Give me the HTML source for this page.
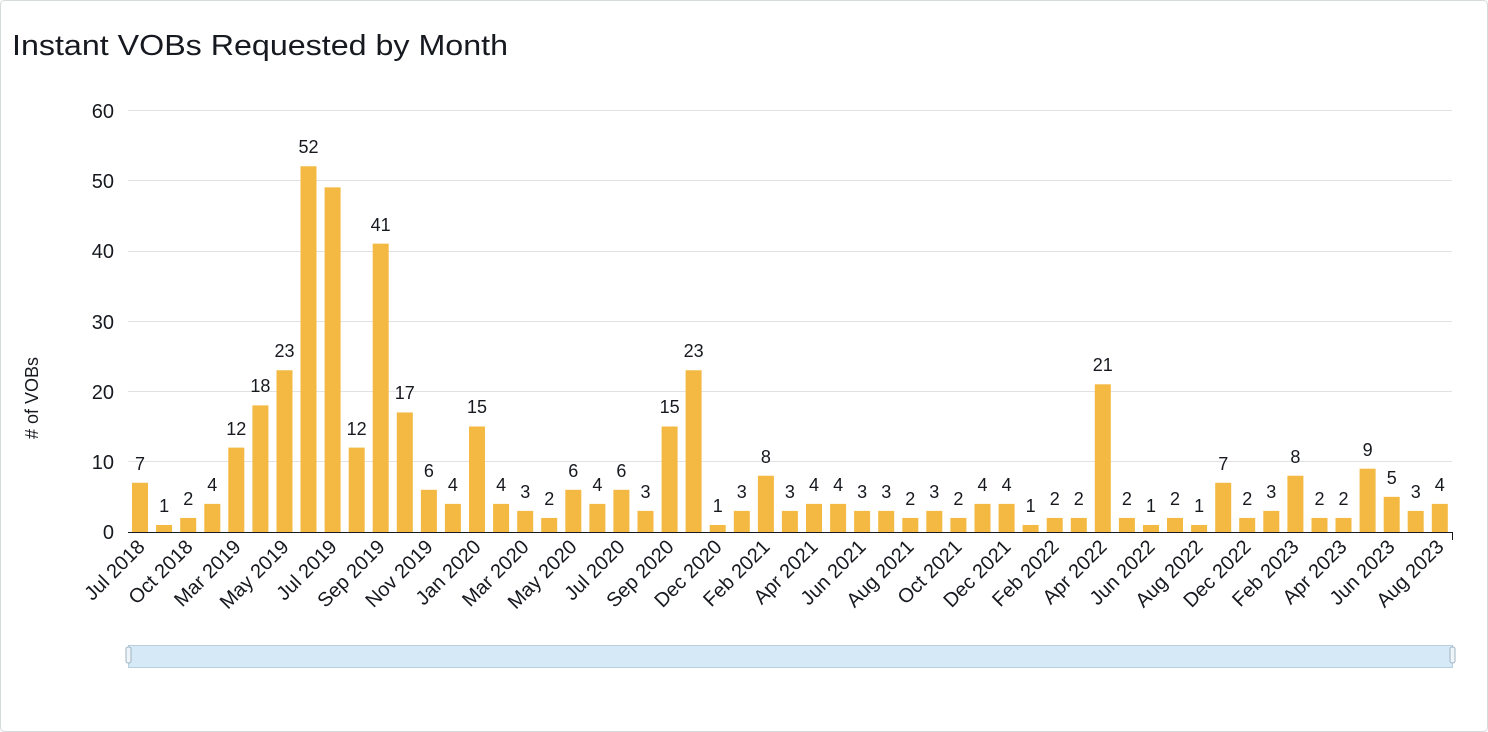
<!DOCTYPE html>
<html><head><meta charset="utf-8"><style>
html,body{margin:0;padding:0;background:#fff;}
svg{display:block;font-family:"Liberation Sans",sans-serif;}
</style></head><body>
<svg width="1488" height="732" viewBox="0 0 1488 732">
<rect x="0.5" y="0.5" width="1487" height="731" rx="4" fill="#fff" stroke="#d5dbdb"/>
<text x="12" y="55" font-size="29" fill="#16191f" textLength="496" lengthAdjust="spacingAndGlyphs">Instant VOBs Requested by Month</text>
<g stroke="#e2e2e2" stroke-width="1">
<line x1="128" x2="1452" y1="110.5" y2="110.5"/>
<line x1="128" x2="1452" y1="180.5" y2="180.5"/>
<line x1="128" x2="1452" y1="251.5" y2="251.5"/>
<line x1="128" x2="1452" y1="321.5" y2="321.5"/>
<line x1="128" x2="1452" y1="391.5" y2="391.5"/>
<line x1="128" x2="1452" y1="461.5" y2="461.5"/>
</g>
<g font-size="20" fill="#16191f" text-anchor="end">
<text x="114" y="118">60</text><text x="114" y="188">50</text><text x="114" y="258">40</text>
<text x="114" y="329">30</text><text x="114" y="399">20</text><text x="114" y="469">10</text><text x="114" y="539">0</text>
</g>
<text transform="translate(38,398) rotate(-90)" font-size="18" fill="#16191f" text-anchor="middle"># of VOBs</text>
<g transform="translate(0,532) scale(1,-7.033)" fill="#f4b942">
<rect x="132" width="16" height="7"/><rect x="156.1" width="16" height="1"/><rect x="180.2" width="16" height="2"/><rect x="204.3" width="16" height="4"/><rect x="228.3" width="16" height="12"/>
<rect x="252.4" width="16" height="18"/><rect x="276.5" width="16" height="23"/><rect x="300.5" width="16" height="52"/><rect x="324.6" width="16" height="49"/><rect x="348.7" width="16" height="12"/>
<rect x="372.7" width="16" height="41"/><rect x="396.8" width="16" height="17"/><rect x="420.9" width="16" height="6"/><rect x="444.9" width="16" height="4"/><rect x="469" width="16" height="15"/>
<rect x="493.1" width="16" height="4"/><rect x="517.2" width="16" height="3"/><rect x="541.2" width="16" height="2"/><rect x="565.3" width="16" height="6"/><rect x="589.4" width="16" height="4"/>
<rect x="613.4" width="16" height="6"/><rect x="637.5" width="16" height="3"/><rect x="661.6" width="16" height="15"/><rect x="685.6" width="16" height="23"/><rect x="709.7" width="16" height="1"/>
<rect x="733.8" width="16" height="3"/><rect x="757.9" width="16" height="8"/><rect x="781.9" width="16" height="3"/><rect x="806" width="16" height="4"/><rect x="830.1" width="16" height="4"/>
<rect x="854.1" width="16" height="3"/><rect x="878.2" width="16" height="3"/><rect x="902.3" width="16" height="2"/><rect x="926.3" width="16" height="3"/><rect x="950.4" width="16" height="2"/>
<rect x="974.5" width="16" height="4"/><rect x="998.6" width="16" height="4"/><rect x="1022.6" width="16" height="1"/><rect x="1046.7" width="16" height="2"/><rect x="1070.8" width="16" height="2"/>
<rect x="1094.8" width="16" height="21"/><rect x="1118.9" width="16" height="2"/><rect x="1143" width="16" height="1"/><rect x="1167" width="16" height="2"/><rect x="1191.1" width="16" height="1"/>
<rect x="1215.2" width="16" height="7"/><rect x="1239.2" width="16" height="2"/><rect x="1263.3" width="16" height="3"/><rect x="1287.4" width="16" height="8"/><rect x="1311.5" width="16" height="2"/>
<rect x="1335.5" width="16" height="2"/><rect x="1359.6" width="16" height="9"/><rect x="1383.7" width="16" height="5"/><rect x="1407.7" width="16" height="3"/><rect x="1431.8" width="16" height="4"/>
</g>
<line x1="128" x2="1452" y1="532.5" y2="532.5" stroke="#16191f"/>
<line x1="1452.5" x2="1452.5" y1="532" y2="540" stroke="#16191f"/>
<g font-size="18" fill="#16191f" text-anchor="middle">
<text x="140" y="470">7</text><text x="164.1" y="512">1</text><text x="188.2" y="505">2</text><text x="212.3" y="491">4</text><text x="236.3" y="435">12</text>
<text x="260.4" y="392">18</text><text x="284.5" y="357">23</text><text x="308.5" y="153">52</text><text x="356.7" y="435">12</text>
<text x="380.7" y="231">41</text><text x="404.8" y="399">17</text><text x="428.9" y="477">6</text><text x="452.9" y="491">4</text><text x="477" y="413">15</text>
<text x="501.1" y="491">4</text><text x="525.2" y="498">3</text><text x="549.2" y="505">2</text><text x="573.3" y="477">6</text><text x="597.4" y="491">4</text>
<text x="621.4" y="477">6</text><text x="645.5" y="498">3</text><text x="669.6" y="413">15</text><text x="693.6" y="357">23</text><text x="717.7" y="512">1</text>
<text x="741.8" y="498">3</text><text x="765.9" y="463">8</text><text x="789.9" y="498">3</text><text x="814" y="491">4</text><text x="838.1" y="491">4</text>
<text x="862.1" y="498">3</text><text x="886.2" y="498">3</text><text x="910.3" y="505">2</text><text x="934.3" y="498">3</text><text x="958.4" y="505">2</text>
<text x="982.5" y="491">4</text><text x="1006.6" y="491">4</text><text x="1030.6" y="512">1</text><text x="1054.7" y="505">2</text><text x="1078.8" y="505">2</text>
<text x="1102.8" y="371">21</text><text x="1126.9" y="505">2</text><text x="1151" y="512">1</text><text x="1175" y="505">2</text><text x="1199.1" y="512">1</text>
<text x="1223.2" y="470">7</text><text x="1247.2" y="505">2</text><text x="1271.3" y="498">3</text><text x="1295.4" y="463">8</text><text x="1319.5" y="505">2</text>
<text x="1343.5" y="505">2</text><text x="1367.6" y="456">9</text><text x="1391.7" y="484">5</text><text x="1415.7" y="498">3</text><text x="1439.8" y="491">4</text>
</g>
<g font-size="20" fill="#16191f" text-anchor="end">
<text transform="translate(146,548) rotate(-45)">Jul 2018</text>
<text transform="translate(194,548) rotate(-45)">Oct 2018</text>
<text transform="translate(242,548) rotate(-45)">Mar 2019</text>
<text transform="translate(290,548) rotate(-45)">May 2019</text>
<text transform="translate(338,548) rotate(-45)">Jul 2019</text>
<text transform="translate(386,548) rotate(-45)">Sep 2019</text>
<text transform="translate(434,548) rotate(-45)">Nov 2019</text>
<text transform="translate(482,548) rotate(-45)">Jan 2020</text>
<text transform="translate(530,548) rotate(-45)">Mar 2020</text>
<text transform="translate(578,548) rotate(-45)">May 2020</text>
<text transform="translate(626,548) rotate(-45)">Jul 2020</text>
<text transform="translate(675,548) rotate(-45)">Sep 2020</text>
<text transform="translate(723,548) rotate(-45)">Dec 2020</text>
<text transform="translate(771,548) rotate(-45)">Feb 2021</text>
<text transform="translate(819,548) rotate(-45)">Apr 2021</text>
<text transform="translate(867,548) rotate(-45)">Jun 2021</text>
<text transform="translate(915,548) rotate(-45)">Aug 2021</text>
<text transform="translate(963,548) rotate(-45)">Oct 2021</text>
<text transform="translate(1012,548) rotate(-45)">Dec 2021</text>
<text transform="translate(1060,548) rotate(-45)">Feb 2022</text>
<text transform="translate(1108,548) rotate(-45)">Apr 2022</text>
<text transform="translate(1156,548) rotate(-45)">Jun 2022</text>
<text transform="translate(1204,548) rotate(-45)">Aug 2022</text>
<text transform="translate(1252,548) rotate(-45)">Dec 2022</text>
<text transform="translate(1300,548) rotate(-45)">Feb 2023</text>
<text transform="translate(1348,548) rotate(-45)">Apr 2023</text>
<text transform="translate(1396,548) rotate(-45)">Jun 2023</text>
<text transform="translate(1445,548) rotate(-45)">Aug 2023</text>
</g>
<rect x="128.5" y="645.5" width="1324" height="22" fill="#d6e9f6" stroke="#b9cfdd"/>
<rect x="126" y="647" width="5" height="16" rx="2" fill="#eef4f8" stroke="#9fb3c2"/>
<rect x="1450" y="647" width="5" height="16" rx="2" fill="#eef4f8" stroke="#9fb3c2"/>
</svg>
</body></html>
